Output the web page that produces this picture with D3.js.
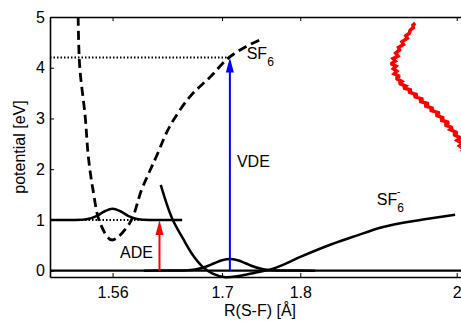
<!DOCTYPE html>
<html>
<head>
<meta charset="utf-8">
<script src="https://cdn.jsdelivr.net/npm/d3@7"></script>
<style>
  body { margin: 0; background: #fff; }
  svg { display: block; font-family: "Liberation Sans", Arial, sans-serif; }
</style>
</head>
<body>
<div id="chart"></div>
<script>
// tick values and labels
const xTicks = [1.56, 1.7, 1.8, 2];
const xTickLabels = ["1.56", "1.7", "1.8", "2"];
const yTicks = [0, 1, 2, 3, 4, 5];

// neutral SF6 potential (dashed)
const neutralR = [1.516, 1.518, 1.525, 1.529, 1.535, 1.544, 1.559, 1.582, 1.597, 1.608, 1.616, 1.633, 1.659, 1.685, 1.708, 1.731, 1.749];
const neutralE = [5.0, 4.02, 3.04, 2.25, 1.59, 0.94, 0.605, 0.94, 1.59, 1.98, 2.25, 2.84, 3.43, 3.82, 4.19, 4.42, 4.55];

// anion SF6- potential (solid)
const anionR = [1.6216, 1.6356, 1.6505, 1.663, 1.675, 1.688, 1.704, 1.723, 1.742, 1.761, 1.78, 1.80, 1.84, 1.87, 1.906, 1.95, 1.998];
const anionE = [1.69, 1.05, 0.62, 0.30, 0.08, -0.06, -0.13, -0.10, -0.04, 0.02, 0.13, 0.27, 0.52, 0.68, 0.86, 0.99, 1.10];

// vibrational wave function on level 1 (around 1.56)
const wave1R = [1.48, 1.51, 1.52, 1.53, 1.54, 1.55, 1.56, 1.57, 1.58, 1.59, 1.60, 1.61, 1.649];
const wave1E = [1.0, 1.0, 1.004, 1.022, 1.08, 1.171, 1.22, 1.171, 1.08, 1.022, 1.004, 1.0, 1.0];

// vibrational wave function on level 0 (around 1.71)
const wave0R = [1.60, 1.64, 1.65, 1.66, 1.67, 1.68, 1.69, 1.70, 1.71, 1.72, 1.73, 1.74, 1.75, 1.76, 1.77, 1.78, 1.819];
const wave0E = [0.0, 0.002, 0.004, 0.013, 0.037, 0.083, 0.146, 0.204, 0.23, 0.204, 0.146, 0.083, 0.037, 0.013, 0.004, 0.002, 0.0];

// measured spectrum (red, noisy)
const specR = [1.9470, 1.9440, 1.9445, 1.9405, 1.9395, 1.9350, 1.9370, 1.9300, 1.9320, 1.9255, 1.9270, 1.9220, 1.9250, 1.9185, 1.9215, 1.9160, 1.9225, 1.9190, 1.9235, 1.9200, 1.9270, 1.9225, 1.9300, 1.9265, 1.9350, 1.9320, 1.9420, 1.9385, 1.9495, 1.9455, 1.9570, 1.9525, 1.9640, 1.9590, 1.9700, 1.9660, 1.9780, 1.9735, 1.9835, 1.9795, 1.9900, 1.9850, 1.9945, 1.9915, 2.0005, 1.9960, 2.0050, 2.0005, 2.0075, 2.0035, 2.0090, 2.0060];
const specE = [4.88, 4.84, 4.79, 4.74, 4.68, 4.63, 4.58, 4.51, 4.46, 4.40, 4.35, 4.29, 4.23, 4.18, 4.13, 4.08, 4.03, 3.98, 3.93, 3.88, 3.83, 3.79, 3.73, 3.69, 3.64, 3.60, 3.56, 3.52, 3.47, 3.43, 3.38, 3.34, 3.29, 3.25, 3.20, 3.16, 3.11, 3.06, 3.01, 2.97, 2.92, 2.87, 2.82, 2.78, 2.72, 2.68, 2.62, 2.57, 2.51, 2.46, 2.40, 2.34];

// transitions
const adeR = 1.62, adeFrom = 0, adeTo = 1;
const vdeR = 1.71, vdeFrom = 0, vdeTo = 4.2;

const width = 461, height = 321;
const svg = d3.select("#chart").append("svg")
  .attr("width", width)
  .attr("height", height);

const x = d3.scaleLinear().domain([1.48, 2.01]).range([50, 464.5]);
const y = d3.scaleLinear().domain([-0.125, 5]).range([277, 17]);

const line = d3.line()
  .x(d => x(d[0]))
  .y(d => y(d[1]))
  .curve(d3.curveCatmullRom);

const zip = (a, b) => a.map((v, i) => [v, b[i]]);

// zero line across the whole plot
svg.append("line")
  .attr("x1", x(1.48)).attr("x2", x(2.01))
  .attr("y1", y(0)).attr("y2", y(0))
  .attr("stroke", "#000").attr("stroke-width", 2.2);

// dotted guides
svg.append("line")
  .attr("x1", x(1.48)).attr("x2", x(vdeR))
  .attr("y1", y(vdeTo)).attr("y2", y(vdeTo))
  .attr("stroke", "#000").attr("stroke-width", 2)
  .attr("stroke-dasharray", "1.5,2");
svg.append("line")
  .attr("x1", x(1.48)).attr("x2", x(adeR))
  .attr("y1", y(adeTo)).attr("y2", y(adeTo))
  .attr("stroke", "#000").attr("stroke-width", 2)
  .attr("stroke-dasharray", "1.5,2");

// wave functions
svg.append("path").datum(zip(wave1R, wave1E))
  .attr("d", line).attr("fill", "none")
  .attr("stroke", "#000").attr("stroke-width", 2.5);
svg.append("path").datum(zip(wave0R, wave0E))
  .attr("d", line).attr("fill", "none")
  .attr("stroke", "#000").attr("stroke-width", 2.5);

// potentials
svg.append("path").datum(zip(neutralR, neutralE))
  .attr("d", line).attr("fill", "none")
  .attr("stroke", "#000").attr("stroke-width", 2.8)
  .attr("stroke-dasharray", "9,5");
svg.append("path").datum(zip(anionR, anionE))
  .attr("d", line).attr("fill", "none")
  .attr("stroke", "#000").attr("stroke-width", 2.5);

// spectrum
svg.append("path").datum(zip(specR, specE))
  .attr("d", d3.line().x(d => x(d[0])).y(d => y(d[1])))
  .attr("fill", "none")
  .attr("stroke", "#ff0000").attr("stroke-width", 3.5)
  .attr("stroke-linejoin", "miter").attr("stroke-miterlimit", 2);

// arrows
function arrow(r, e0, e1, color) {
  const px = x(r), y0 = y(e0), y1 = y(e1);
  const headL = 15, headW = 4;
  svg.append("line")
    .attr("x1", px).attr("x2", px)
    .attr("y1", y0).attr("y2", y1 + headL - 2)
    .attr("stroke", color).attr("stroke-width", 2);
  svg.append("path")
    .attr("d", `M${px},${y1}L${px - headW},${y1 + headL}L${px + headW},${y1 + headL}Z`)
    .attr("fill", color);
}
arrow(adeR, adeFrom, adeTo, "#ff0000");
arrow(vdeR, vdeFrom, vdeTo, "#0000ff");

// axes (MATLAB style, ticks inside)
const axBottom = svg.append("g")
  .attr("transform", `translate(0,${y(-0.125)})`)
  .call(d3.axisBottom(x).tickValues(xTicks).tickFormat((d, i) => xTickLabels[i])
    .tickSize(-4).tickSizeOuter(0).tickPadding(10));
const axTop = svg.append("g")
  .attr("transform", `translate(0,${y(5)})`)
  .call(d3.axisTop(x).tickValues(xTicks).tickFormat("")
    .tickSize(-4).tickSizeOuter(0));
const axLeft = svg.append("g")
  .attr("transform", `translate(${x(1.48)},0)`)
  .call(d3.axisLeft(y).tickValues(yTicks).tickFormat(d3.format("d"))
    .tickSize(-4).tickSizeOuter(0).tickPadding(5));

[axBottom, axTop, axLeft].forEach(g => {
  g.select(".domain").attr("stroke", "#000").attr("stroke-width", 1.6);
  g.selectAll(".tick line").attr("stroke", "#000").attr("stroke-width", 1);
  g.selectAll(".tick text")
    .attr("font-family", '"Liberation Sans", Arial, sans-serif')
    .attr("font-size", 16).attr("fill", "#000");
});

// axis labels
svg.append("text")
  .attr("x", 260).attr("y", 316)
  .attr("text-anchor", "middle")
  .attr("font-size", 16)
  .text("R(S-F) [Å]");
svg.append("text")
  .attr("transform", "translate(25,147) rotate(-90)")
  .attr("text-anchor", "middle")
  .attr("font-size", 16)
  .text("potential [eV]");

// curve labels
const sf6 = svg.append("text")
  .attr("x", x(1.7315)).attr("y", y(4.17))
  .attr("font-size", 16);
sf6.append("tspan").text("SF");
sf6.append("tspan").attr("dy", 7).attr("font-size", 12).text("6");

const sf6m = svg.append("text")
  .attr("x", x(1.8978)).attr("y", y(1.295))
  .attr("font-size", 16);
sf6m.append("tspan").text("SF");
sf6m.append("tspan").attr("dy", 7).attr("font-size", 12).text("6");
svg.append("text")
  .attr("x", x(1.8978) + 20).attr("y", y(1.295) - 10)
  .attr("font-size", 11)
  .text("-");

svg.append("text")
  .attr("x", x(1.719)).attr("y", y(2.04))
  .attr("font-size", 16)
  .text("VDE");
svg.append("text")
  .attr("x", x(1.5695)).attr("y", y(0.25))
  .attr("font-size", 16)
  .text("ADE");
</script>
</body>
</html>
